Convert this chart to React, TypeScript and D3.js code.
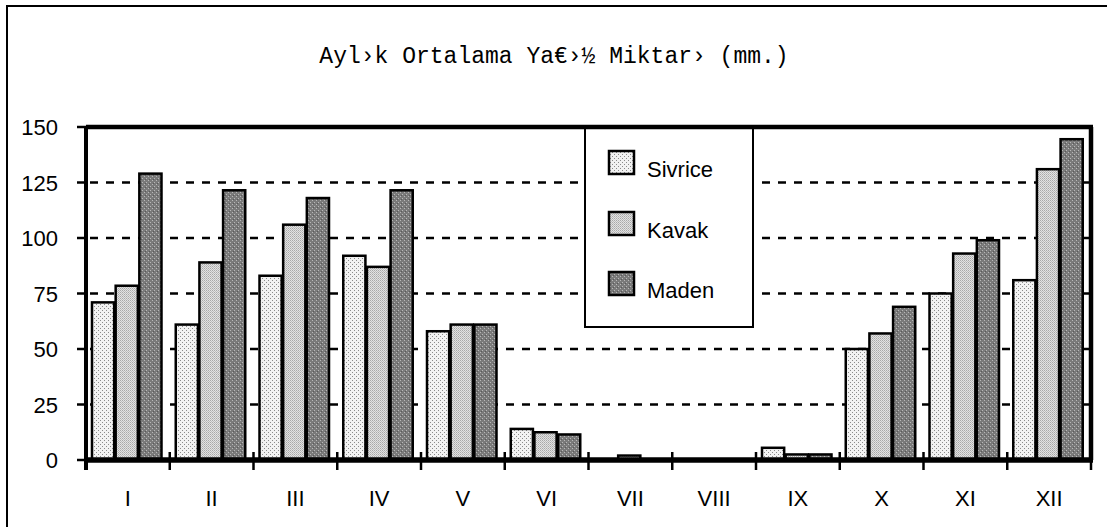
import React from "react";
import * as d3 from "d3";

const months = ["I", "II", "III", "IV", "V", "VI", "VII", "VIII", "IX", "X", "XI", "XII"];
const seriesNames = ["Sivrice", "Kavak", "Maden"];
const sivrice = [71, 61, 83, 92, 58, 14, 0, 0, 5.5, 50, 75, 81];
const kavak = [78.5, 89, 106, 87, 61, 12.5, 2, 0, 2.5, 57, 93, 131];
const maden = [129, 121.5, 118, 121.5, 61, 11.5, 0, 0, 2.5, 69, 99, 144.5];
const yTicks = [0, 25, 50, 75, 100, 125, 150];
const title = "Ayl›k Ortalama Ya€›½ Miktar› (mm.)";

const W = 1107;
const H = 527;
const plot = { left: 86, right: 1091, top: 127, bottom: 460 };

export default function App() {
  const x = d3.scaleBand<string>().domain(months).range([plot.left, plot.right]).padding(0);
  const inner = d3.scaleBand<string>().domain(seriesNames).range([6, 77]).padding(0);
  const y = d3.scaleLinear().domain([0, 150]).range([plot.bottom, plot.top]);
  const data = [sivrice, kavak, maden];
  const fills = ["url(#pSiv)", "url(#pKav)", "url(#pMad)"];
  const sans = "'Liberation Sans', Arial, sans-serif";

  return (
    <svg width={W} height={H} style={{ position: "absolute", left: 0, top: 0, background: "#fff" }}>
      <defs>
        <pattern id="pSiv" width={4} height={4} patternUnits="userSpaceOnUse">
          <rect width={4} height={4} fill="#f2f2f2" />
          <rect x={0} y={0} width={1} height={1} fill="#8a8a8a" />
          <rect x={2} y={2} width={1} height={1} fill="#8a8a8a" />
        </pattern>
        <pattern id="pKav" width={2} height={2} patternUnits="userSpaceOnUse">
          <rect width={2} height={2} fill="#e2e2e2" />
          <rect x={0} y={0} width={1} height={1} fill="#a8a8a8" />
          <rect x={1} y={1} width={1} height={1} fill="#bdbdbd" />
        </pattern>
        <pattern id="pMad" width={4} height={4} patternUnits="userSpaceOnUse">
          <rect width={4} height={4} fill="#7a7a7a" />
          <rect x={0} y={0} width={1} height={1} fill="#b8b8b8" />
          <rect x={2} y={2} width={1} height={1} fill="#b8b8b8" />
          <rect x={1} y={3} width={1} height={1} fill="#5a5a5a" />
        </pattern>
      </defs>

      {/* outer frame */}
      <rect x={7} y={6} width={W + 10} height={H + 10} fill="none" stroke="#000" strokeWidth={2} />

      {/* title */}
      <text x={554} y={63} textAnchor="middle" fontFamily="'Liberation Mono', 'Courier New', monospace" fontSize={23} fill="#000">
        {title}
      </text>

      {/* gridlines */}
      {yTicks.filter((t) => t > 0 && t < 150).map((t) => (
        <line key={"g" + t} x1={plot.left} x2={plot.right} y1={y(t)} y2={y(t)} stroke="#000" strokeWidth={2.5} strokeDasharray="8,8" strokeDashoffset={-4} />
      ))}

      {/* legend */}
      <rect x={585} y={plot.top} width={168} height={200} fill="#fff" stroke="#000" strokeWidth={2} />
      {seriesNames.map((s, i) => {
        const base = [177, 238, 298][i];
        return (
          <g key={"l" + s}>
            <rect x={609} y={base - 26} width={25} height={23} fill={fills[i]} stroke="#000" strokeWidth={2.5} />
            <text x={647} y={base} fontFamily={sans} fontSize={22} fill="#000">{s}</text>
          </g>
        );
      })}

      {/* bars */}
      {months.map((m, mi) => (
        <g key={"b" + m}>
          {seriesNames.map((s, si) => {
            const v = data[si][mi];
            if (v <= 0) return null;
            const bx = (x(m) as number) + (inner(s) as number);
            const bw = inner.bandwidth() - 1.5;
            return (
              <rect key={s} x={bx} y={y(v)} width={bw} height={y(0) - y(v)} fill={fills[si]} stroke="#000" strokeWidth={2.5} />
            );
          })}
        </g>
      ))}

      {/* plot frame top/right */}
      <line x1={plot.left} x2={plot.right + 2} y1={plot.top} y2={plot.top} stroke="#000" strokeWidth={4.5} />
      <line x1={plot.right} x2={plot.right} y1={plot.top} y2={plot.bottom} stroke="#000" strokeWidth={4.5} />

      {/* y axis */}
      <line x1={plot.left} x2={plot.left} y1={plot.top} y2={470} stroke="#000" strokeWidth={4} />
      {yTicks.map((t) => (
        <g key={"yt" + t}>
          <line x1={77} x2={plot.left} y1={y(t)} y2={y(t)} stroke="#000" strokeWidth={2.5} />
          <text x={58} y={y(t) + 8} textAnchor="end" fontFamily={sans} fontSize={22} fill="#000">{t}</text>
        </g>
      ))}

      {/* x axis */}
      <line x1={plot.left - 2} x2={plot.right + 2} y1={plot.bottom} y2={plot.bottom} stroke="#000" strokeWidth={5.5} />
      {months.map((m) => (
        <line key={"xt" + m} x1={(x(m) as number) + x.bandwidth()} x2={(x(m) as number) + x.bandwidth()} y1={452} y2={470} stroke="#000" strokeWidth={2.5} />
      ))}
      {months.map((m) => (
        <text key={"xl" + m} x={(x(m) as number) + x.bandwidth() / 2} y={506} textAnchor="middle" fontFamily={sans} fontSize={22} fill="#000">{m}</text>
      ))}
    </svg>
  );
}
